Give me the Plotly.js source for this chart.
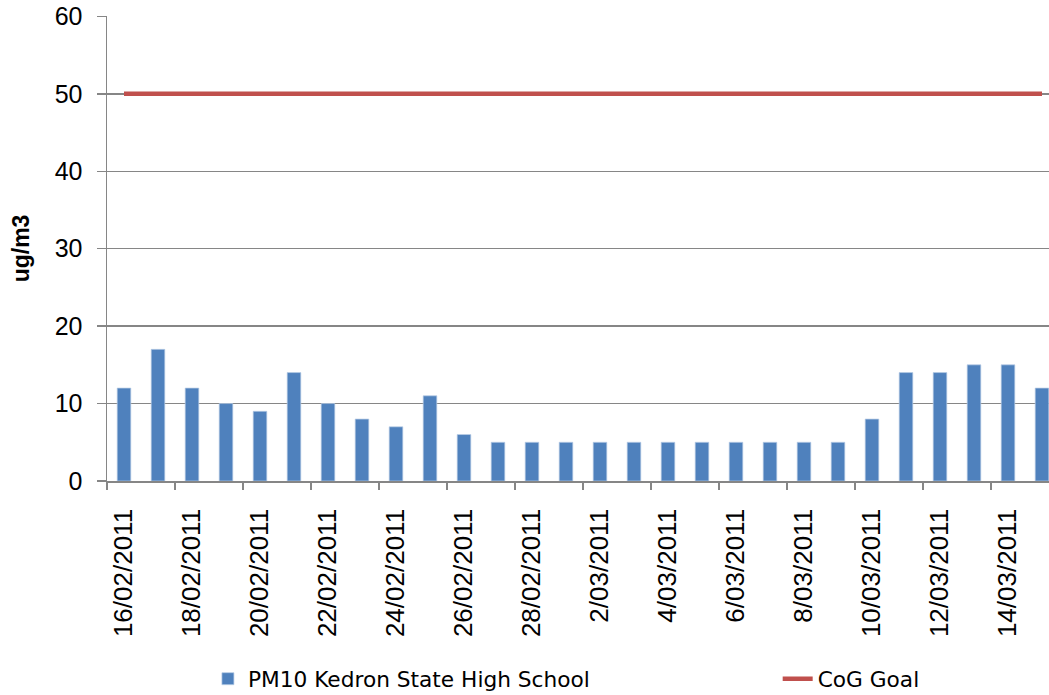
<!DOCTYPE html>
<html>
<head>
<meta charset="utf-8">
<script src="https://cdn.plot.ly/plotly-3.0.1.min.js"></script>
<style>
html,body{margin:0;padding:0;overflow:hidden;background:#fff;width:1049px;height:695px;}
#chart{width:1062px;height:695px;}
</style>
</head>
<body>
<div id="chart"></div>
<script>
const dates = ["16/02/2011","17/02/2011","18/02/2011","19/02/2011","20/02/2011","21/02/2011","22/02/2011",
  "23/02/2011","24/02/2011","25/02/2011","26/02/2011","27/02/2011","28/02/2011","1/03/2011",
  "2/03/2011","3/03/2011","4/03/2011","5/03/2011","6/03/2011","7/03/2011","8/03/2011",
  "9/03/2011","10/03/2011","11/03/2011","12/03/2011","13/03/2011","14/03/2011","15/03/2011"];
const pm10 = [12,17,12,10,9,14,10,8,7,11,6,5,5,5,5,5,5,5,5,5,5,5,8,14,14,15,15,12];
const goal = [50,50,50,50,50,50,50,50,50,50,50,50,50,50,50,50,50,50,50,50,50,50,50,50,50,50,50,50];
const seriesNames = ["PM10 Kedron State High School","CoG Goal"];
const yTitle = "ug/m3";

const gridCol = "#868686";
const legFont = {family:"DejaVu Sans, sans-serif", size:21.7, color:"#000"};
const traces = [
  {type:"bar", x:dates, y:pm10, name:seriesNames[0], width:0.4, legend:"legend",
   marker:{color:"#4F81BD", line:{color:"#B9CDE5", width:0.7}}},
  {type:"scatter", mode:"lines", x:dates, y:goal, name:seriesNames[1], legend:"legend2",
   line:{color:"#C0504D", width:4.5}}
];
const layout = {
  width:1062, height:695,
  margin:{l:107, r:3, t:16, b:214, autoexpand:false},
  paper_bgcolor:"#fff", plot_bgcolor:"#fff",
  showlegend:true,
  legend:{orientation:"h", x:0.106, xanchor:"left", y:-0.426, yanchor:"middle", font:legFont},
  legend2:{orientation:"h", x:0.7045, xanchor:"left", y:-0.426, yanchor:"middle", font:legFont},
  xaxis:{type:"category", dtick:2, tickangle:-90, tickson:"boundaries", automargin:false,
    ticks:"outside", ticklen:7, tickcolor:gridCol, tickwidth:1.5, ticklabelstandoff:16,
    showline:true, linecolor:gridCol, linewidth:1.5, showgrid:false,
    tickfont:{family:"Liberation Sans, Arial, sans-serif", size:26, color:"#000"},
    range:[-0.5, 27.5]},
  yaxis:{range:[0,60.05], tick0:0, dtick:10, ticks:"outside", ticklen:9, tickcolor:gridCol, tickwidth:1.5,
    automargin:false, ticklabelstandoff:9,
    showline:true, linecolor:gridCol, linewidth:1.5, showgrid:true, gridcolor:gridCol, gridwidth:1.5,
    zeroline:false,
    tickfont:{family:"Liberation Sans, Arial, sans-serif", size:25, color:"#000"},
    title:{text:yTitle, standoff:18, font:{family:"Liberation Sans, Arial, sans-serif", size:23, color:"#000", weight:"bold"}}},
  bargap:0.6
};
Plotly.newPlot("chart", traces, layout, {displayModeBar:false, staticPlot:true});
</script>
</body>
</html>
